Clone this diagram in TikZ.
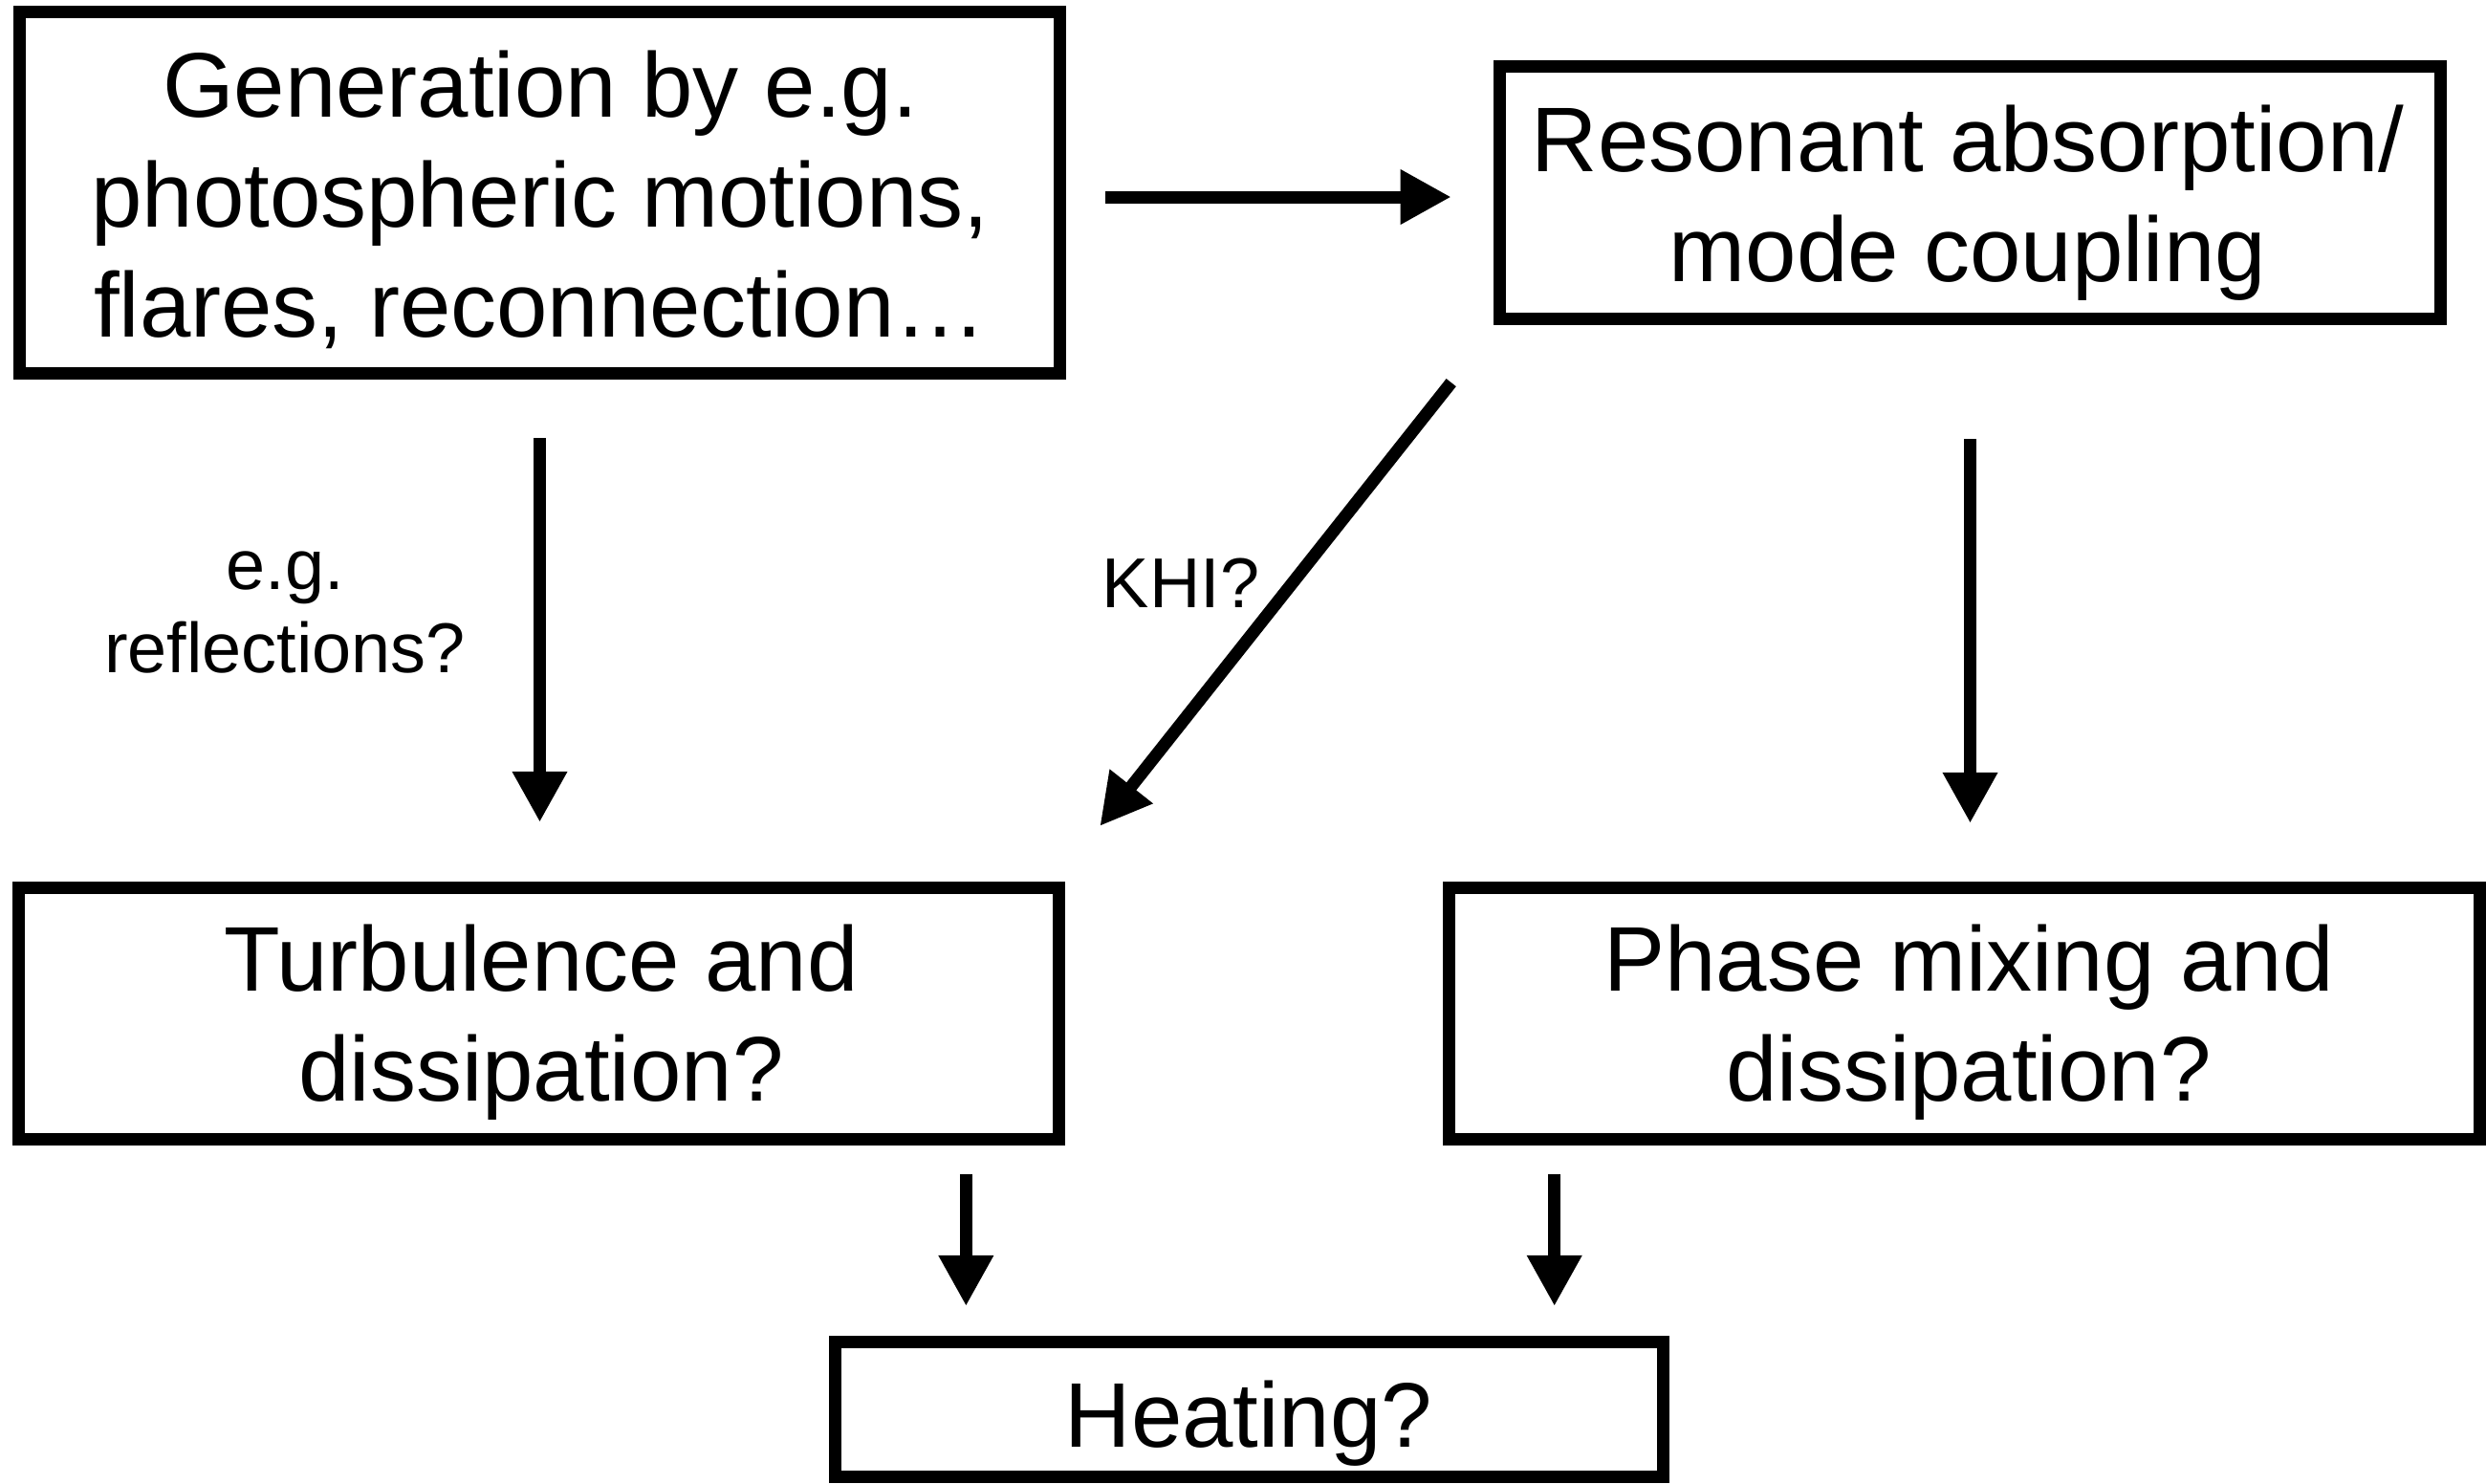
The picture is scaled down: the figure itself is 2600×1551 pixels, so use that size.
\documentclass[tikz,border=0pt]{standalone}
\usepackage{fontspec}
\setmainfont{Liberation Sans}
\usetikzlibrary{arrows.meta,calc}
\newcommand\mytop{\rule{0pt}{0.75em}}
\newcommand\mybot{\rule[-0.25em]{0pt}{0.25em}}
\begin{document}
\begin{tikzpicture}[x=0.01cm,y=-0.01cm,
  box/.style={draw, line width=0.13cm, rectangle, inner sep=0pt},
  txt/.style={inner sep=0pt, align=center, font=\fontsize{27.3}{32.7}\selectfont},
  lbl/.style={inner sep=0pt, align=center, font=\fontsize{21}{25}\selectfont},
  arr/.style={line width=0.13cm, -{Triangle[length=0.53cm,width=0.54cm]}}]
\useasboundingbox (0,0) rectangle (2600,1551);
\fill[white] (0,0) rectangle (2600,1551);
% boxes
\node[box, minimum width=10.88cm, minimum height=3.78cm] (gen) at (564.5,201.5) {};
\node[box, minimum width=9.84cm, minimum height=2.64cm] (res) at (2060.5,201.5) {};
\node[box, minimum width=10.88cm, minimum height=2.63cm] (turb) at (563.5,1060) {};
\node[box, minimum width=10.78cm, minimum height=2.63cm] (phase) at (2054.5,1060) {};
\node[box, minimum width=8.66cm, minimum height=1.41cm] (heat) at (1306.5,1474) {};
% texts
\node[txt] (gent) at (565,213.5) {\mytop Generation by e.g.\\photospheric motions,\\flares, reconnection…\mybot};
\node[txt] (rest) at (2058,212.5) {\mytop Resonant absorption/\\mode coupling\mybot};
\node[txt] (turbt) at (566,1070) {\mytop Turbulence and\\dissipation?\mybot};
\node[txt] (phaset) at (2059,1070) {\mytop Phase mixing and\\dissipation?\mybot};
\node[txt] (heatt) at (1306,1489) {\mytop Heating?\mybot};
\node[lbl] (refl) at (298,641.5) {\mytop e.g.\\reflections?\mybot};
\node[lbl] (khi) at (1235,617.5) {\mytop KHI?\mybot};
% arrows
\coordinate (h1) at ($(gen.east)+(41,4.5)$);
\coordinate (h2) at ($(res.west)+(-44,4.5)$);
\draw[arr] (h1) -- (h2);
\draw[arr, shorten <=0.61cm, shorten >=0.62cm] (gen.south) -- (gen.south |- turb.north);
\coordinate (d1) at ($(res.south west)+(-44,60)$);
\coordinate (d2) at ($(turb.north east)+(36,-58)$);
\draw[arr] (d1) -- (d2);
\draw[arr, shorten <=1.19cm, shorten >=0.61cm] (res.south) -- (res.south |- phase.north);
\coordinate (t1) at ($(turb.south east)+(-104,0)$);
\coordinate (p1) at ($(phase.south west)+(117,0)$);
\draw[arr, shorten <=0.30cm, shorten >=0.31cm] (t1) -- (t1 |- heat.north);
\draw[arr, shorten <=0.30cm, shorten >=0.31cm] (p1) -- (p1 |- heat.north);
\end{tikzpicture}
\end{document}
